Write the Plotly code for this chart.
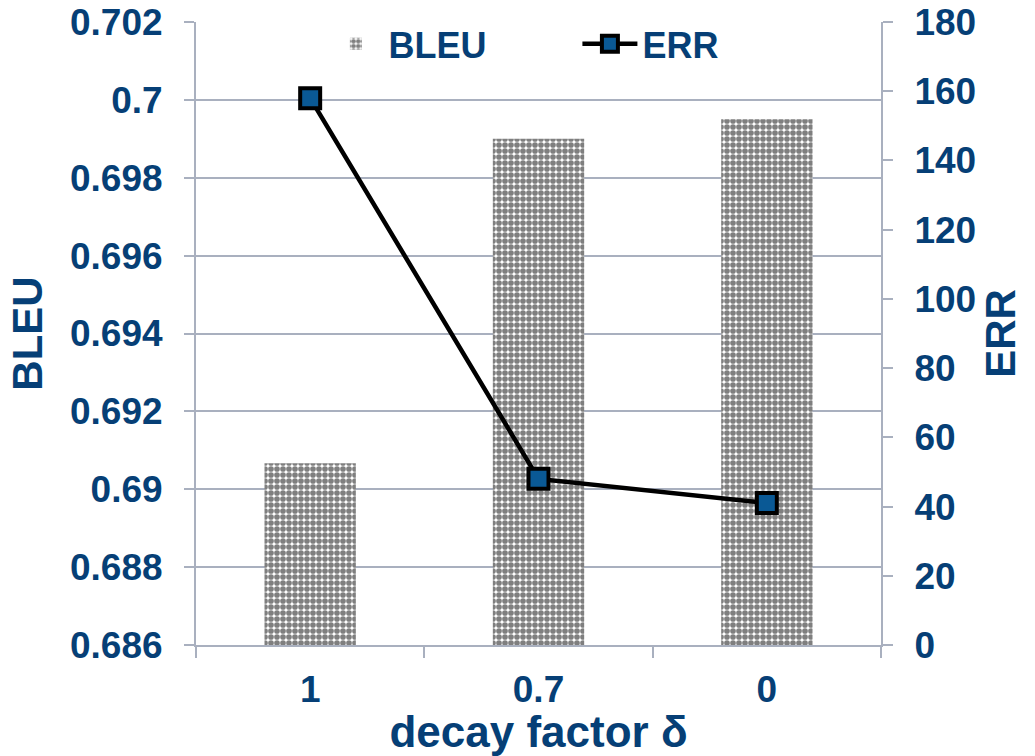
import plotly.graph_objects as go

# decay factor settings on the category axis
decay = ["1", "0.7", "0"]
# BLEU score per setting (left axis)
bleu = [0.69067, 0.6990, 0.6995]
# ERR per setting (right axis)
err = [158, 48, 41]

BASE = 0.686
left_ticks = [0.686, 0.688, 0.690, 0.692, 0.694, 0.696, 0.698, 0.700, 0.702]
left_labels = ["0.686", "0.688", "0.69", "0.692", "0.694", "0.696", "0.698", "0.7", "0.702"]
right_ticks = [0, 20, 40, 60, 80, 100, 120, 140, 160, 180]

NAVY = "#063f76"
GRID = "#a9b0bf"
FONT = "Liberation Sans, Arial, sans-serif"

fig = go.Figure()

# bars rise from the 0.686 baseline of the left axis
fig.add_trace(go.Bar(
    x=decay, y=[v - BASE for v in bleu], base=BASE, name="BLEU", width=0.4,
    marker=dict(
        color="white",
        line=dict(width=0),
        pattern=dict(shape=".", fgcolor="black", bgcolor="white",
                     size=6, solidity=0.7, fillmode="overlay"),
    ),
))

fig.add_trace(go.Scatter(
    x=decay, y=err, name="ERR", yaxis="y2", mode="lines+markers",
    line=dict(color="black", width=4.5),
    marker=dict(symbol="square", size=20, color="#0a5995",
                line=dict(color="black", width=4)),
))

tickfont = dict(family=FONT, size=37, color=NAVY, weight="bold")

fig.update_layout(
    width=1035, height=756,
    margin=dict(l=196, r=154, t=22, b=111),
    paper_bgcolor="white", plot_bgcolor="white",
    showlegend=True,
    legend=dict(orientation="h", x=0.186, y=0.965, xanchor="left", yanchor="middle",
                font=dict(family=FONT, size=36, color=NAVY, weight="bold"),
                bgcolor="rgba(0,0,0,0)", itemwidth=55, entrywidthmode="pixels",
                entrywidth=184),
    xaxis=dict(
        type="category", categoryorder="array", categoryarray=decay,
        automargin=False,
        showline=True, linecolor=GRID, linewidth=2,
        ticks="outside", tickson="boundaries", ticklen=11, tickcolor=GRID, tickwidth=2,
        ticklabelstandoff=11, tickfont=tickfont,
        showgrid=False,
        title=dict(text="decay factor δ", standoff=5,
                   font=dict(family=FONT, size=44, color=NAVY, weight="bold")),
    ),
    yaxis=dict(
        range=[0.686, 0.702], tickvals=left_ticks, ticktext=left_labels,
        automargin=False,
        showline=True, linecolor=GRID, linewidth=2,
        ticks="outside", ticklen=10, tickcolor=GRID, tickwidth=2,
        ticklabelstandoff=14, tickfont=tickfont,
        showgrid=True, gridcolor=GRID, gridwidth=2, zeroline=False,
        title=dict(text="BLEU", standoff=14,
                   font=dict(family=FONT, size=42, color=NAVY, weight="bold")),
    ),
    yaxis2=dict(
        overlaying="y", side="right", range=[0, 180], tickvals=right_ticks,
        automargin=False,
        showline=True, linecolor=GRID, linewidth=2,
        ticks="outside", ticklen=10, tickcolor=GRID, tickwidth=2,
        ticklabelstandoff=14, tickfont=tickfont,
        showgrid=False, zeroline=False,
        title=dict(text="ERR", standoff=10,
                   font=dict(family=FONT, size=42, color=NAVY, weight="bold")),
    ),
)

fig.write_html("out.html")
